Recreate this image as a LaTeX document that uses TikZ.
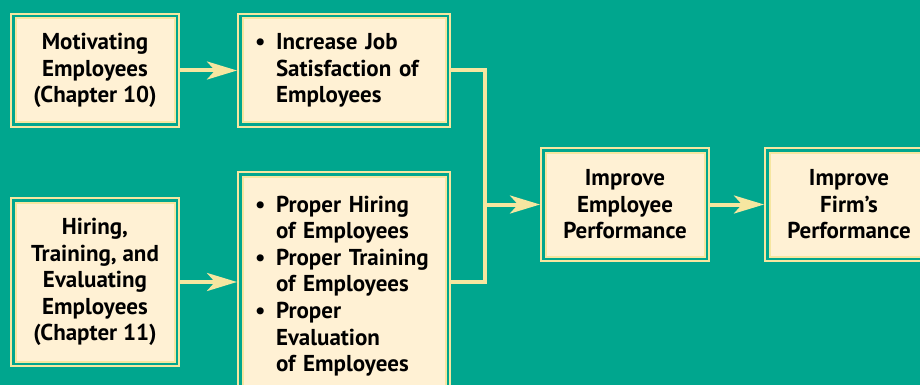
\documentclass[tikz,border=0pt]{standalone}
\usepackage{fontspec}
\setmainfont{PT Sans}
\usetikzlibrary{arrows.meta}

\definecolor{fondo}{RGB}{0,166,142}
\definecolor{linea}{RGB}{246,230,160}
\definecolor{crema}{RGB}{255,241,212}

\tikzset{
  caja/.style={draw=linea, line width=2pt, double=fondo, double distance=2.5pt,
    fill=crema, outer sep=3.25pt, inner sep=0pt,
    font=\bfseries\fontsize{23}{26.6}\selectfont, text=black},
  flecha/.style={draw=linea, line width=4pt,
    -{Stealth[length=30pt,width=18pt,inset=8pt,fill=linea]}},
  enlace/.style={draw=linea, line width=4pt}
}
\newcommand{\bul}{\makebox[21pt][l]{\textbullet}}
\newcommand{\sangria}{\hspace*{21pt}}

\begin{document}
\begin{tikzpicture}[x=1pt,y=-1pt]
    % fondo
    \fill[fondo] (0,0) rectangle (920,385);
    \useasboundingbox (0,0) rectangle (920,385);

    % cajas
    \node[caja, minimum width=163.5pt, minimum height=108.5pt, align=center]
      (motiv) at (95,70.5) {Motivating\\Employees\\(Chapter 10)};
    \node[caja, minimum width=163.5pt, minimum height=163.5pt, align=center]
      (contrat) at (95,282) {Hiring,\\Training, and\\Evaluating\\Employees\\(Chapter 11)};
    \node[caja, minimum width=207.5pt, minimum height=108.5pt, text width=178pt, align=left]
      (satisf) at (344,70.5) {\bul Increase Job\\\sangria Satisfaction of\\\sangria Employees};
    \node[caja, minimum width=207.5pt, minimum height=223.5pt, text width=178pt, align=left]
      (propio) at (344,286) {\bul Proper Hiring\\\sangria of Employees\\\bul Proper Training\\\sangria of Employees\\\bul Proper\\\sangria Evaluation\\\sangria of Employees};
    \node[caja, minimum width=163.5pt, minimum height=108.5pt, align=center]
      (desemp) at (625,204.5) {Improve\\Employee\\Performance};
    \node[caja, minimum width=163.5pt, minimum height=108.5pt, align=center]
      (firma) at (849,204.5) {Improve\\Firm’s\\Performance};

    % conectores
    \coordinate (union) at (485,204.5);
    \draw[flecha] (motiv) -- (satisf);
    \draw[flecha] (contrat) -- ([yshift=4pt]propio.west);
    \draw[enlace] (satisf.east) -| (union) |- ([yshift=4pt]propio.east);
    \draw[flecha] ([xshift=-2pt]union) -- (desemp);
    \draw[flecha] (desemp) -- (firma);
\end{tikzpicture}
\end{document}
